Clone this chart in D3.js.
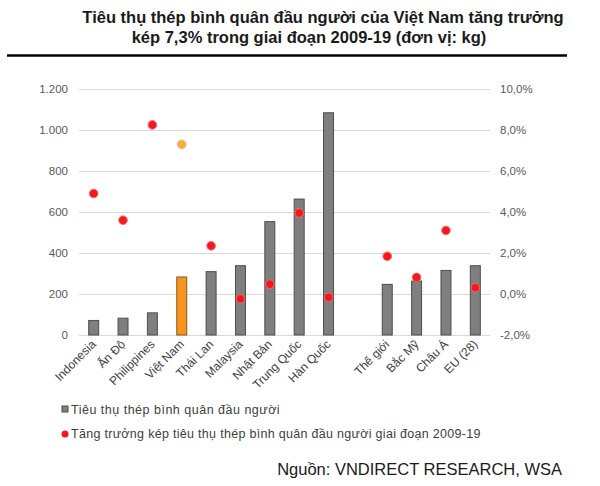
<!DOCTYPE html>
<html><head><meta charset="utf-8">
<script src="https://cdn.jsdelivr.net/npm/d3@7"></script>
<style>body{margin:0;background:#fff}svg{display:block;font-family:"Liberation Sans",Arial,sans-serif}</style>
</head><body><svg id="c" width="600" height="486"></svg>
<script>
const categories = ["Indonesia","Ấn Độ","Philippines","Việt Nam","Thái Lan","Malaysia","Nhật Bản","Trung Quốc","Hàn Quốc","","Thế giới","Bắc Mỹ","Châu Á","EU (28)"];
const consumption = [71, 82, 108, 283, 309, 338, 553, 663, 1084, null, 247, 263, 315, 338];
const cagr = [4.9, 3.6, 8.25, 7.3, 2.35, -0.24, 0.48, 3.95, -0.16, null, 1.84, 0.81, 3.1, 0.31];
const leftTicks = [0,200,400,600,800,1000,1200];
const leftTickLabels = ["0","200","400","600","800","1.000","1.200"];
const rightTicks = [-2,0,2,4,6,8,10];
const rightTickLabels = ["-2,0%","0,0%","2,0%","4,0%","6,0%","8,0%","10,0%"];
const highlight = "Việt Nam";
const titleLines = ["Tiêu thụ thép bình quân đầu người của Việt Nam tăng trưởng","kép 7,3% trong giai đoạn 2009-19 (đơn vị: kg)"];
const legendLabels = ["Tiêu thụ thép bình quân đầu người","Tăng trưởng kép tiêu thụ thép bình quân đầu người giai đoạn 2009-19"];
const source = "Nguồn: VNDIRECT RESEARCH, WSA";

const svg = d3.select("#c");
const L = 79, R = 490, T = 89, B = 335;
const x = d3.scaleBand().domain(d3.range(categories.length)).range([L, R]).paddingInner(0.66).paddingOuter(0.33);
const yL = d3.scaleLinear().domain([0,1200]).range([B,T]);
const yR = d3.scaleLinear().domain([-2,10]).range([B,T]);

// title
const titleX = [323, 309];
svg.append("g").selectAll("text").data(titleLines).join("text")
  .attr("x",(d,i)=>titleX[i]).attr("y",(d,i)=>23+i*20).attr("text-anchor","middle")
  .attr("font-size",16.5).attr("font-weight","bold").attr("fill","#1a1a1a").text(d=>d);
svg.append("line").attr("x1",7).attr("x2",567).attr("y1",55.5).attr("y2",55.5).attr("stroke","#000").attr("stroke-width",2.5);

// grid
svg.append("g").selectAll("line").data(leftTicks).join("line")
  .attr("x1",L).attr("x2",R).attr("y1",d=>Math.round(yL(d))+0.5).attr("y2",d=>Math.round(yL(d))+0.5)
  .attr("stroke","#d9d9d9").attr("stroke-width",1);

// left axis
const la = d3.axisLeft(yL).tickValues(leftTicks).tickFormat((d,i)=>leftTickLabels[i]).tickSize(0).tickPadding(11);
const gl = svg.append("g").attr("transform",`translate(${L},0)`).call(la);
gl.select(".domain").remove();
gl.selectAll("text").attr("font-size",11.5).attr("fill","#595959").attr("font-family","Liberation Sans, Arial, sans-serif");

// right axis
const ra = d3.axisRight(yR).tickValues(rightTicks).tickFormat((d,i)=>rightTickLabels[i]).tickSize(0).tickPadding(10);
const gr = svg.append("g").attr("transform",`translate(${R},0)`).call(ra);
gr.select(".domain").remove();
gr.selectAll("text").attr("font-size",11.5).attr("fill","#595959").attr("font-family","Liberation Sans, Arial, sans-serif");

// bars
const idx = d3.range(categories.length).filter(i=>consumption[i]!=null);
svg.append("g").selectAll("rect").data(idx).join("rect")
  .attr("x",i=>x(i)).attr("width",x.bandwidth())
  .attr("y",i=>yL(consumption[i])).attr("height",i=>yL(0)-yL(consumption[i]))
  .attr("fill",i=>categories[i]===highlight?"#f7941d":"#7f7f7f")
  .attr("stroke",i=>categories[i]===highlight?"#8a5a1a":"#4d4d4d").attr("stroke-width",1);

// dots
svg.append("g").selectAll("circle").data(idx).join("circle")
  .attr("cx",i=>x(i)+x.bandwidth()/2).attr("cy",i=>yR(cagr[i])).attr("r",4.3)
  .attr("fill",i=>categories[i]===highlight?"#f8a94a":"#f0191e")
  .attr("stroke",i=>categories[i]===highlight?"#f5b870":"#ff6666").attr("stroke-width",1);

// x labels
svg.append("g").selectAll("text").data(idx).join("text")
  .attr("transform",i=>`translate(${x(i)+x.bandwidth()/2+3},${B+10}) rotate(-45)`)
  .attr("text-anchor","end").attr("font-size",12).attr("fill","#404040").text(i=>categories[i]);

// legend
svg.append("rect").attr("x",62).attr("y",406).attr("width",6).attr("height",6).attr("fill","#7f7f7f").attr("stroke","#4d4d4d");
svg.append("text").attr("x",71).attr("y",414).attr("font-size",12.5).attr("letter-spacing",0.5).attr("fill","#404040").text(legendLabels[0]);
svg.append("circle").attr("cx",65).attr("cy",434).attr("r",3.5).attr("fill","#f0191e");
svg.append("text").attr("x",71).attr("y",438).attr("font-size",12.5).attr("letter-spacing",0.3).attr("fill","#404040").text(legendLabels[1]);

// source
svg.append("text").attr("x",562).attr("y",475).attr("text-anchor","end").attr("font-size",16.5).attr("fill","#1a1a1a").text(source);
</script></body></html>
